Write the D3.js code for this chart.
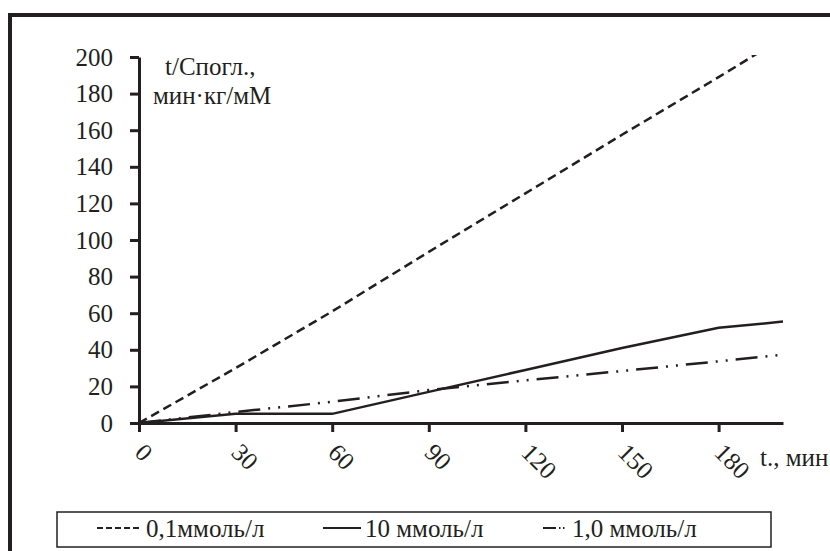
<!DOCTYPE html>
<html>
<head>
<meta charset="utf-8">
<script src="https://cdn.jsdelivr.net/npm/d3@7"></script>
<style>
  svg text { font-family: "Liberation Serif" !important; }
</style>
</head>
<body style="margin:0">
<svg id="chart" width="830" height="551" font-family="Liberation Serif"></svg>
<script>
// time, min
var times = [0, 30, 60, 90, 120, 150, 180, 200];
// t/C absorbed, min·kg/mM
var conc01 = [0, 30, 61, 93.5, 125.5, 157.5, 189, 210.5];   // 0,1 ммоль/л
var conc10 = [0, 5, 5, 17, 29, 41, 52, 55.4];               // 10 ммоль/л
var conc1  = [0, 6, 11.6, 18, 23.3, 28.4, 33.7, 37.3];      // 1,0 ммоль/л
var xTicks = [0, 30, 60, 90, 120, 150, 180];
var yTicks = [0, 20, 40, 60, 80, 100, 120, 140, 160, 180, 200];
var seriesNames = ["0,1ммоль/л", "10 ммоль/л", "1,0 ммоль/л"];

var ink = "#231f20";
var fontName = "Liberation Serif";
var fs = "25px";
var svg = d3.select("#chart");

// outer frame (runs off the right and bottom edge)
svg.append("rect")
   .attr("x", 10).attr("y", 15)
   .attr("width", 900).attr("height", 700)
   .attr("fill", "none").attr("stroke", ink).attr("stroke-width", 4);

// ================= scales
var x = d3.scaleLinear().domain([0, 200]).range([139, 783]);
var y = d3.scaleLinear().domain([0, 200]).range([423, 57]);

svg.append("clipPath").attr("id", "plotclip")
   .append("rect")
   .attr("x", x(0)).attr("y", y(200) - 2)
   .attr("width", x(200) - x(0)).attr("height", y(0) - y(200) + 2);

// ================= axis Y
var gy = svg.append("g")
   .attr("transform", "translate(" + x(0) + ",0)")
   .call(d3.axisLeft(y).tickValues(yTicks).tickSize(9).tickSizeOuter(0).tickPadding(17))
   .attr("font-family", fontName);
gy.select(".domain").attr("stroke", ink).attr("stroke-width", 3);
gy.selectAll(".tick line").attr("stroke", ink).attr("stroke-width", 3);
gy.selectAll(".tick text")
  .attr("font-family", fontName)
  .style("font-family", fontName)
  .style("font-size", fs)
  .attr("fill", ink);

// ================= axis X
var gx = svg.append("g")
   .attr("transform", "translate(0," + y(0) + ")")
   .call(d3.axisBottom(x).tickValues(xTicks).tickSize(9).tickSizeOuter(0))
   .attr("font-family", fontName);
gx.select(".domain").attr("stroke", ink).attr("stroke-width", 3);
gx.selectAll(".tick line").attr("stroke", ink).attr("stroke-width", 3);
gx.selectAll(".tick text")
  .attr("font-family", fontName)
  .style("font-family", fontName)
  .style("font-size", fs)
  .attr("fill", ink)
  .attr("text-anchor", "start")
  .attr("x", -6).attr("y", 31).attr("dy", null)
  .attr("transform", "rotate(45,-6,31)");

// axis titles
function label(px, py, txt) {
  return svg.append("text").attr("x", px).attr("y", py)
     .attr("font-family", fontName)
     .style("font-family", fontName).style("font-size", fs)
     .attr("fill", ink).text(txt);
}
label(760, 466, "t., мин");
label(165, 75, "t/Cпогл.,");
label(153, 104, "мин·кг/мМ");

// ========================= lines
function lineOf(vals) {
  return d3.line()
    .x(function(d, i) { return x(times[i]); })
    .y(function(d) { return y(d); })(vals);
}

var plot = svg.append("g").attr("clip-path", "url(#plotclip)");

plot.append("path").attr("d", lineOf(conc01))
    .attr("fill", "none").attr("stroke", ink).attr("stroke-width", 2.5)
    .attr("stroke-dasharray", "9,5");
plot.append("path").attr("d", lineOf(conc10))
    .attr("fill", "none").attr("stroke", ink).attr("stroke-width", 2.5);
plot.append("path").attr("d", lineOf(conc1))
    .attr("fill", "none").attr("stroke", ink).attr("stroke-width", 2.5)
    .attr("stroke-dasharray", "22,8,2,8,2,8");

// ========================= legend
var legend = svg.append("g");
legend.append("rect")
   .attr("x", 57).attr("y", 512).attr("width", 714).attr("height", 35)
   .attr("fill", "#fff").attr("stroke", ink).attr("stroke-width", 1.5);

var legendItems = [
  {x1: 97,  x2: 142, tx: 146, dash: "6,3"},
  {x1: 323, x2: 361, tx: 365, dash: null},
  {x1: 543, x2: 568, tx: 572, dash: "13,3,1.5,2.5,1.5,10"}
];
legendItems.forEach(function(it, i) {
  legend.append("line")
     .attr("x1", it.x1).attr("x2", it.x2).attr("y1", 528).attr("y2", 528)
     .attr("stroke", ink).attr("stroke-width", 2)
     .attr("stroke-dasharray", it.dash);
  label(it.tx, 537, seriesNames[i]);
});
</script>
</body>
</html>
